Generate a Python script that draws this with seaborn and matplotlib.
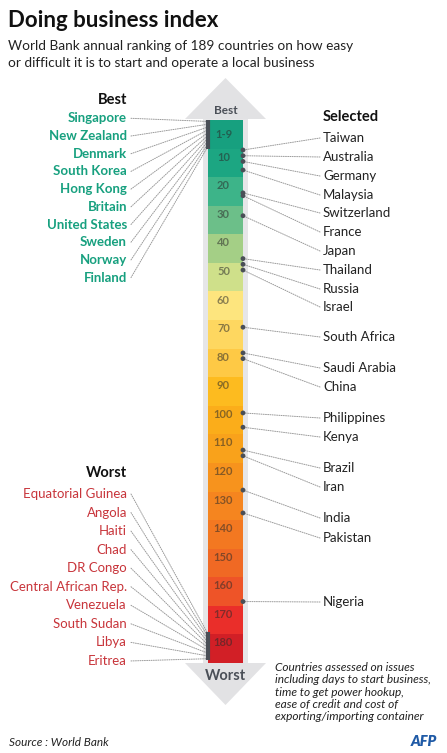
import numpy as np
import pandas as pd
import seaborn as sns
import matplotlib
matplotlib.use("Agg")
import matplotlib.pyplot as plt
from matplotlib.patches import Polygon, Rectangle, ConnectionPatch
from matplotlib.colors import ListedColormap

# ---------------- data ----------------
band_labels = ["1-9", "10", "20", "30", "40", "50", "60", "70", "80", "90",
               "100", "110", "120", "130", "140", "150", "160", "170", "180"]
band_colors = ["#17a07f", "#1ca682", "#3db489", "#6cbf89", "#a4cf86", "#cfe08a",
               "#fde57e", "#fed760", "#fec945", "#fdbb1f", "#fbad1a", "#f9a21b",
               "#f7931d", "#f5851f", "#f37821", "#f06924", "#ee5428", "#ea2e2a",
               "#d21f26"]

best_countries = ["Singapore", "New Zealand", "Denmark", "South Korea", "Hong Kong",
                  "Britain", "United States", "Sweden", "Norway", "Finland"]
best_ranks = [1, 2, 3, 4, 5, 6, 7, 8, 9, 10]

worst_countries = ["Equatorial Guinea", "Angola", "Haiti", "Chad", "DR Congo",
                   "Central African Rep.", "Venezuela", "South Sudan", "Libya", "Eritrea"]
worst_ranks = [180, 181, 182, 183, 184, 185, 186, 187, 188, 189]

selected_countries = ["Taiwan", "Australia", "Germany", "Malaysia", "Switzerland",
                      "France", "Japan", "Thailand", "Russia", "Israel",
                      "South Africa", "Saudi Arabia", "China", "Philippines", "Kenya",
                      "Brazil", "Iran", "India", "Pakistan", "Nigeria"]
selected_ranks = [11, 13, 15, 18, 26, 27, 34, 49, 51, 53,
                  73, 82, 84, 103, 108, 116, 118, 130, 138, 169]

# ---------------- layout (pixels) ----------------
W, H = 447, 753
selected_label_y = [138, 157, 176, 195, 213, 232, 251, 270, 289, 307,
                    337, 368, 387, 418, 437, 468, 487, 518, 538, 602]
best_label_y0, best_step = 118.3, 17.7
worst_label_y0, worst_step = 494, 18.55

FONT = "Lato"
sns.set_theme(style="white")
plt.rcParams["font.family"] = [FONT, "DejaVu Sans"]

fig = plt.figure(figsize=(W / 100, H / 100), dpi=100)
ax = fig.add_axes([0, 0, 1, 1])
ax.set_xlim(0, W)
ax.set_ylim(H, 0)
ax.axis("off")

# background arrow
grey = "#e2e2e4"
ax.add_patch(Rectangle((203, 118), 45, 547, color="#e6e6e8", lw=0, zorder=0))
ax.add_patch(Polygon([(185, 119), (266, 119), (225.5, 78)], closed=True,
                     color=grey, lw=0, zorder=0))
ax.add_patch(Polygon([(185, 663), (266, 663), (225.5, 705)], closed=True,
                     color=grey, lw=0, zorder=0))
ax.text(225.5, 110, "Best", ha="center", va="center", fontsize=8.5,
        fontweight="bold", color="#4a4f57")
ax.text(225.5, 676, "Worst", ha="center", va="center", fontsize=10.5,
        fontweight="bold", color="#4a4f57")

# bar (heatmap of rank bands)
bx0, by0, bw, bh = 207.5, 120, 35.5, 543
ax_bar = fig.add_axes([bx0 / W, 1 - (by0 + bh) / H, bw / W, bh / H])
band_df = pd.DataFrame({"band": np.arange(len(band_labels))}, index=band_labels)
sns.heatmap(band_df, cmap=ListedColormap(band_colors), cbar=False, ax=ax_bar,
            xticklabels=False, yticklabels=False, linewidths=0)
ax_bar.set_ylim(len(band_labels), 0)
ax_bar.set_xlim(0, 1)
for i, lab in enumerate(band_labels):
    yy = i + (0.5 if i == 0 else 0.3)
    ax_bar.text(0.45, yy, lab, ha="center", va="center", fontsize=8,
                fontweight="bold", color="#2b2b2b", alpha=0.55)


def pos(r):
    return (r - 0.5) / 10.0


# thick markers on left edge
ax_bar.plot([0.02, 0.02], [pos(best_ranks[0]) - 0.05, pos(best_ranks[-1]) + 0.05],
            color="#4a4f57", lw=3, solid_capstyle="butt", clip_on=False, zorder=5)
ax_bar.plot([0.02, 0.02], [pos(worst_ranks[0]) - 0.05, pos(worst_ranks[-1]) + 0.05],
            color="#4a4f57", lw=3, solid_capstyle="butt", clip_on=False, zorder=5)

# selected dots on right edge
sel_df = pd.DataFrame({"x": [1.0] * len(selected_ranks),
                       "y": [pos(r) for r in selected_ranks]})
sns.scatterplot(data=sel_df, x="x", y="y", ax=ax_bar, s=12, color="#4a4f57",
                edgecolor="none", clip_on=False, zorder=6, legend=False)
ax_bar.set_xlabel("")
ax_bar.set_ylabel("")
ax_bar.set_xticks([])
ax_bar.set_yticks([])
for s in ax_bar.spines.values():
    s.set_visible(False)

line_kw = dict(color="#9a9a9a", lw=0.7, linestyle=(0, (1, 1.3)))

# best labels
teal = "#17a07f"
ax.text(127, 100, "Best", ha="right", va="center", fontsize=10.5,
        fontweight="bold", color="#111111")
for k, (c, r) in enumerate(zip(best_countries, best_ranks)):
    yl = best_label_y0 + k * best_step
    ax.text(127, yl, c, ha="right", va="center", fontsize=9.5,
            fontweight="bold", color=teal)
    con = ConnectionPatch(xyA=(131, yl), coordsA=ax.transData,
                          xyB=(0, pos(r)), coordsB=ax_bar.transData, **line_kw)
    ax.add_artist(con)

# worst labels
red = "#c8353b"
ax.text(127, 473, "Worst", ha="right", va="center", fontsize=10.5,
        fontweight="bold", color="#111111")
for k, (c, r) in enumerate(zip(worst_countries, worst_ranks)):
    yl = worst_label_y0 + k * worst_step
    ax.text(127, yl, c, ha="right", va="center", fontsize=9.5, color=red)
    con = ConnectionPatch(xyA=(131, yl), coordsA=ax.transData,
                          xyB=(0, pos(r)), coordsB=ax_bar.transData, **line_kw)
    ax.add_artist(con)

# selected labels
ax.text(323, 117, "Selected", ha="left", va="center", fontsize=10.5,
        fontweight="bold", color="#111111")
for c, r, yl in zip(selected_countries, selected_ranks, selected_label_y):
    ax.text(323, yl, c, ha="left", va="center", fontsize=9.5, color="#222222")
    con = ConnectionPatch(xyA=(320, yl), coordsA=ax.transData,
                          xyB=(1, pos(r)), coordsB=ax_bar.transData, **line_kw)
    ax.add_artist(con)

# titles
ax.text(8, 20, "Doing business index", ha="left", va="center", fontsize=16,
        fontweight="bold", color="#111111")
ax.text(8, 46, "World Bank annual ranking of 189 countries on how easy",
        ha="left", va="center", fontsize=9.8, color="#222222")
ax.text(8, 63, "or difficult it is to start and operate a local business",
        ha="left", va="center", fontsize=9.8, color="#222222")

# footnote
foot = ["Countries assessed on issues", "including days to start business,",
        "time to get power hookup,", "ease of credit and cost of",
        "exporting/importing container"]
for k, line in enumerate(foot):
    ax.text(275, 667.3 + k * 12.35, line, ha="left", va="center", fontsize=8.6,
            style="italic", color="#222222")

ax.text(9, 742, "Source : World Bank", ha="left", va="center", fontsize=8.5,
        style="italic", color="#222222")
ax.text(437, 742, "AFP", ha="right", va="center", fontsize=10.5,
        fontweight="heavy", style="italic", color="#1f5aa6")

fig.savefig("out.png", dpi=100)
